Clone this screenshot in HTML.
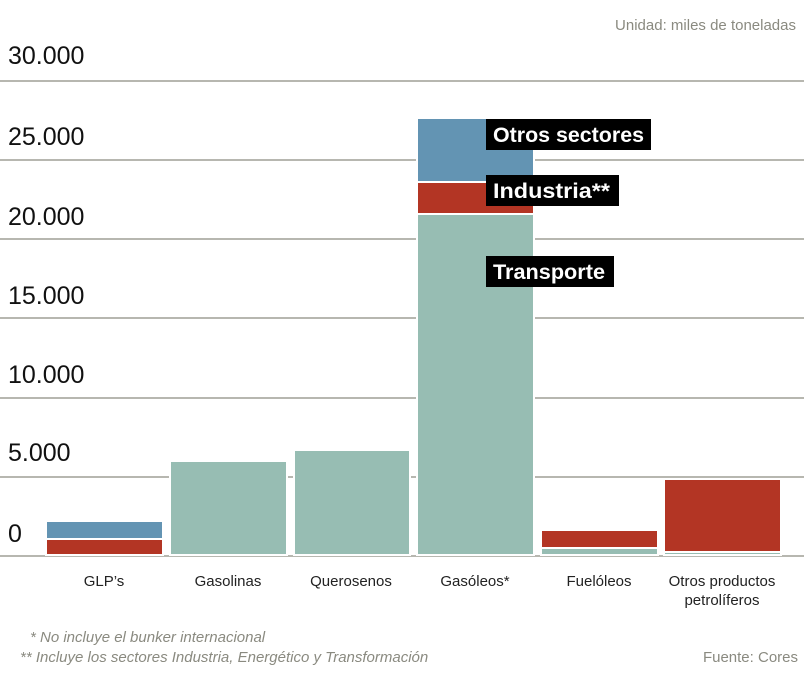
<!DOCTYPE html>
<html><head><meta charset="utf-8"><style>
html,body{margin:0;padding:0;background:#fff;}
svg{display:block;font-family:"Liberation Sans","DejaVu Sans",sans-serif;}
</style></head><body>
<svg width="804" height="688" viewBox="0 0 804 688" xmlns="http://www.w3.org/2000/svg">
<g stroke="#8c8c80" stroke-width="1.3">
<line x1="0" y1="81" x2="804" y2="81"/>
<line x1="0" y1="160" x2="804" y2="160"/>
<line x1="0" y1="239" x2="804" y2="239"/>
<line x1="0" y1="318" x2="804" y2="318"/>
<line x1="0" y1="398" x2="804" y2="398"/>
<line x1="0" y1="477" x2="804" y2="477"/>
<line x1="0" y1="556" x2="804" y2="556"/>
</g>
<g font-size="25" fill="#111">
<text x="8" y="64">30.000</text>
<text x="8" y="145">25.000</text>
<text x="8" y="225">20.000</text>
<text x="8" y="304">15.000</text>
<text x="8" y="383">10.000</text>
<text x="8" y="461">5.000</text>
<text x="8" y="542">0</text>
</g>
<g stroke="#fff" stroke-width="2">
<rect x="46" y="521" width="117" height="18" fill="#6394b3"/>
<rect x="46" y="539" width="117" height="16" fill="#b33524"/>
<rect x="170" y="461" width="117" height="94" fill="#97bdb3"/>
<rect x="294" y="450" width="116" height="105" fill="#97bdb3"/>
<rect x="417" y="118" width="117" height="64" fill="#6394b3"/>
<rect x="417" y="182" width="117" height="32" fill="#b33524"/>
<rect x="417" y="214" width="117" height="341" fill="#97bdb3"/>
<rect x="541" y="530" width="117" height="18" fill="#b33524"/>
<rect x="541" y="548" width="117" height="7" fill="#97bdb3"/>
<rect x="664" y="479" width="117" height="73" fill="#b33524"/>
<rect x="664" y="552" width="117" height="3" fill="#97bdb3"/>
</g>
<rect x="486" y="119" width="165" height="31" fill="#000"/>
<rect x="486" y="175" width="133" height="31" fill="#000"/>
<rect x="486" y="256" width="128" height="31" fill="#000"/>
<g fill="#fff" font-size="21" font-weight="bold">
<text x="493" y="142" textLength="151" lengthAdjust="spacingAndGlyphs">Otros sectores</text>
<text x="493" y="198" textLength="117" lengthAdjust="spacingAndGlyphs">Industria**</text>
<text x="493" y="279" textLength="112" lengthAdjust="spacingAndGlyphs">Transporte</text>
</g>
<g font-size="15" fill="#222" text-anchor="middle">
<text x="104" y="586">GLP’s</text>
<text x="228" y="586">Gasolinas</text>
<text x="351" y="586">Querosenos</text>
<text x="475" y="586">Gasóleos*</text>
<text x="599" y="586">Fuelóleos</text>
<text x="722" y="586">Otros productos</text>
<text x="722" y="605">petrolíferos</text>
</g>
<text x="796" y="30" font-size="15" fill="#8a8a80" text-anchor="end">Unidad: miles de toneladas</text>
<g font-size="15" fill="#8a8a80" font-style="italic">
<text x="30" y="642">*  No incluye el bunker internacional</text>
<text x="20" y="662">**  Incluye los sectores Industria, Energético y Transformación</text>
</g>
<text x="798" y="662" font-size="15" fill="#8a8a80" text-anchor="end">Fuente: Cores</text>
</svg>
</body></html>
